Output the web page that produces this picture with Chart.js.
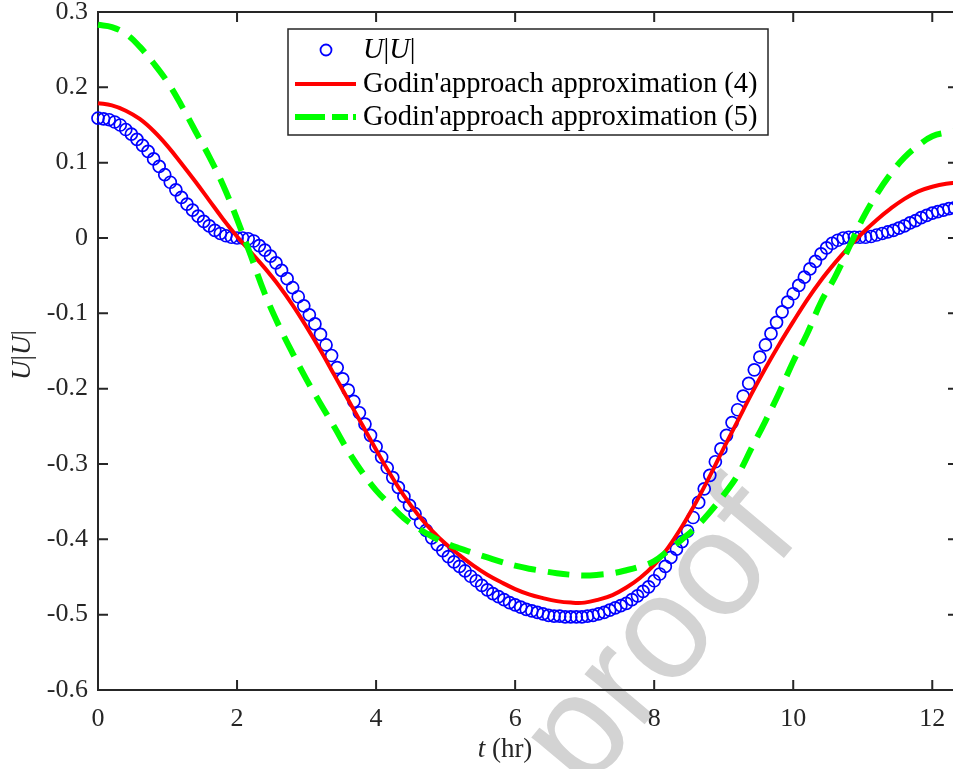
<!DOCTYPE html>
<html>
<head>
<meta charset="utf-8">
<script src="https://cdn.jsdelivr.net/npm/chart.js@4.4.1/dist/chart.umd.min.js"></script>
<style>
  html, body { margin: 0; padding: 0; background: #fff; overflow: hidden; }
  #wrap { position: absolute; left: 0; top: 0; width: 970px; height: 769px; }
</style>
</head>
<body>
<div id="wrap"><canvas id="c" width="970" height="769"></canvas></div>
<script>
// Time samples (hr) of the measured U|U| series
const tMeasured = [0,0.08,0.16,0.24,0.32,0.4,0.48,0.56,0.64,0.72,0.8,0.88,0.96,1.04,1.12,1.2,1.28,1.36,1.44,1.52,
  1.6,1.68,1.76,1.84,1.92,2,2.08,2.16,2.24,2.32,2.4,2.48,2.56,2.64,2.72,2.8,2.88,2.96,3.04,3.12,
  3.2,3.28,3.36,3.44,3.52,3.6,3.68,3.76,3.84,3.92,4,4.08,4.16,4.24,4.32,4.4,4.48,4.56,4.64,4.72,
  4.8,4.88,4.96,5.04,5.12,5.2,5.28,5.36,5.44,5.52,5.6,5.68,5.76,5.84,5.92,6,6.08,6.16,6.24,6.32,
  6.4,6.48,6.56,6.64,6.72,6.8,6.88,6.96,7.04,7.12,7.2,7.28,7.36,7.44,7.52,7.6,7.68,7.76,7.84,7.92,
  8,8.08,8.16,8.24,8.32,8.4,8.48,8.56,8.64,8.72,8.8,8.88,8.96,9.04,9.12,9.2,9.28,9.36,9.44,9.52,
  9.6,9.68,9.76,9.84,9.92,10,10.08,10.16,10.24,10.32,10.4,10.48,10.56,10.64,10.72,10.8,10.88,10.96,11.04,11.12,
  11.2,11.28,11.36,11.44,11.52,11.6,11.68,11.76,11.84,11.92,12,12.08,12.16,12.24,12.32,12.4];

// U|U| values
const uuMeasured = [0.159,0.158,0.157,0.154,0.150,0.144,0.138,0.131,0.123,0.115,
  0.105,0.095,0.084,0.074,0.064,0.054,0.045,0.037,0.029,0.022,
  0.016,0.010,0.006,0.003,0.001,0.000,0.000,-0.001,-0.004,-0.010,
  -0.016,-0.024,-0.033,-0.043,-0.054,-0.066,-0.078,-0.090,-0.102,-0.114,
  -0.128,-0.142,-0.156,-0.172,-0.187,-0.202,-0.217,-0.232,-0.247,-0.262,
  -0.277,-0.291,-0.305,-0.318,-0.331,-0.343,-0.355,-0.366,-0.378,-0.388,
  -0.398,-0.407,-0.415,-0.423,-0.430,-0.436,-0.442,-0.449,-0.455,-0.461,
  -0.467,-0.472,-0.476,-0.480,-0.484,-0.487,-0.490,-0.493,-0.495,-0.497,
  -0.499,-0.501,-0.502,-0.502,-0.503,-0.503,-0.503,-0.503,-0.502,-0.501,
  -0.499,-0.497,-0.494,-0.491,-0.488,-0.485,-0.480,-0.475,-0.469,-0.463,
  -0.455,-0.446,-0.436,-0.424,-0.413,-0.403,-0.389,-0.371,-0.351,-0.333,
  -0.315,-0.297,-0.280,-0.262,-0.245,-0.228,-0.210,-0.193,-0.175,-0.158,
  -0.142,-0.127,-0.112,-0.098,-0.085,-0.074,-0.063,-0.052,-0.041,-0.031,
  -0.021,-0.013,-0.007,-0.003,0.000,0.001,0.001,0.001,0.001,0.002,
  0.004,0.006,0.008,0.010,0.013,0.016,0.020,0.023,0.027,0.030,
  0.033,0.035,0.037,0.039,0.040,0.041];

// Time samples (hr) of the two approximations
const tApprox = [0,0.2,0.4,0.6,0.8,1,1.2,1.4,1.6,1.8,2,2.2,2.4,2.6,2.8,3,3.2,3.4,3.6,3.8,
  4,4.2,4.4,4.6,4.8,5,5.2,5.4,5.6,5.8,6,6.2,6.4,6.6,6.8,7,7.2,7.4,7.6,7.8,
  8,8.2,8.4,8.6,8.8,9,9.2,9.4,9.6,9.8,10,10.2,10.4,10.6,10.8,11,11.2,11.4,11.6,11.8,
  12,12.2,12.4];

// Godin'approach approximation (4)
const approx4 = [0.179,0.176,0.169,0.158,0.142,0.122,0.099,0.075,0.050,0.025,
  0.002,-0.019,-0.040,-0.063,-0.089,-0.118,-0.149,-0.182,-0.215,-0.248,
  -0.281,-0.313,-0.342,-0.367,-0.388,-0.406,-0.421,-0.435,-0.447,-0.457,
  -0.466,-0.473,-0.478,-0.482,-0.484,-0.484,-0.480,-0.474,-0.464,-0.451,
  -0.434,-0.411,-0.383,-0.351,-0.316,-0.279,-0.243,-0.207,-0.173,-0.141,
  -0.111,-0.082,-0.056,-0.033,-0.012,0.007,0.024,0.039,0.052,0.062,
  0.068,0.072,0.074];

// Godin'approach approximation (5)
const approx5 = [0.283,0.280,0.271,0.254,0.232,0.207,0.176,0.142,0.108,0.070,
  0.025,-0.024,-0.074,-0.116,-0.153,-0.188,-0.220,-0.251,-0.283,-0.311,
  -0.335,-0.354,-0.372,-0.385,-0.396,-0.405,-0.412,-0.418,-0.424,-0.430,
  -0.435,-0.439,-0.442,-0.445,-0.447,-0.448,-0.447,-0.445,-0.441,-0.436,
  -0.429,-0.415,-0.400,-0.384,-0.364,-0.341,-0.315,-0.279,-0.243,-0.205,
  -0.164,-0.127,-0.085,-0.052,-0.013,0.026,0.058,0.085,0.107,0.123,
  0.135,0.140,0.143];

const xTicks = [0, 2, 4, 6, 8, 10, 12];
const xTickLabels = ['0', '2', '4', '6', '8', '10', '12'];
const yTicks = [-0.6, -0.5, -0.4, -0.3, -0.2, -0.1, 0, 0.1, 0.2, 0.3];
const yTickLabels = ['-0.6', '-0.5', '-0.4', '-0.3', '-0.2', '-0.1', '0', '0.1', '0.2', '0.3'];
const seriesNames = ['U|U|', "Godin'approach approximation (4)", "Godin'approach approximation (5)"];

const SERIF = "'Liberation Serif', 'Times New Roman', serif";
const AXIS = '#262626';
const TICK_LEN = 10;
const TICK_PX = 26;
const TITLE_PX = 27;
const LEGEND_PX = 28.5;

const zip = (xs, ys) => xs.map((x, i) => ({ x, y: ys[i] }));

// Text made of upright and italic pieces, e.g. U|U| or t (hr)
function drawPieces(ctx, pieces, size, x, y, align) {
  const fontOf = p => (p.i ? 'italic ' : '') + size + 'px ' + SERIF;
  let total = 0;
  pieces.forEach(p => { ctx.font = fontOf(p); total += ctx.measureText(p.t).width; });
  let cx = align === 'center' ? x - total / 2 : x;
  ctx.textAlign = 'left';
  pieces.forEach(p => {
    ctx.font = fontOf(p);
    ctx.fillText(p.t, cx, y);
    cx += ctx.measureText(p.t).width;
  });
}
const UU = [{ t: 'U', i: true }, { t: '|' }, { t: 'U', i: true }, { t: '|' }];

// Diagonal grey stamp behind the plot
const stamp = {
  id: 'stamp',
  beforeDraw(chart) {
    const ctx = chart.ctx;
    ctx.save();
    ctx.translate(585, 795);
    ctx.rotate(-50 * Math.PI / 180);
    ctx.font = "148px 'Liberation Sans', Arial, sans-serif";
    ctx.fillStyle = '#d3d3d3';
    ctx.textBaseline = 'alphabetic';
    ctx.fillText('proof', 0, 0);
    ctx.restore();
  }
};

// Box outline with inward tick marks on all four sides
const frame = {
  id: 'frame',
  beforeDatasetsDraw(chart) {
    const { ctx, chartArea: a, scales: { x, y } } = chart;
    ctx.save();
    ctx.strokeStyle = AXIS;
    ctx.lineWidth = 2;
    ctx.beginPath();
    ctx.rect(a.left, a.top, a.right - a.left, a.bottom - a.top);
    xTicks.forEach(v => {
      const px = x.getPixelForValue(v);
      ctx.moveTo(px, a.bottom); ctx.lineTo(px, a.bottom - TICK_LEN);
      ctx.moveTo(px, a.top); ctx.lineTo(px, a.top + TICK_LEN);
    });
    yTicks.forEach(v => {
      const py = y.getPixelForValue(v);
      ctx.moveTo(a.left, py); ctx.lineTo(a.left + TICK_LEN, py);
      ctx.moveTo(a.right, py); ctx.lineTo(a.right - TICK_LEN, py);
    });
    ctx.stroke();
    ctx.restore();
  }
};

// Axis titles and the boxed legend
const annotations = {
  id: 'annotations',
  afterDraw(chart) {
    const ctx = chart.ctx;
    ctx.save();
    ctx.fillStyle = AXIS;
    ctx.textBaseline = 'alphabetic';
    drawPieces(ctx, [{ t: 't', i: true }, { t: ' (hr)' }], TITLE_PX, 505, 757, 'center');
    ctx.save();
    ctx.translate(30, 355);
    ctx.rotate(-Math.PI / 2);
    drawPieces(ctx, UU, TITLE_PX, 0, 0, 'center');
    ctx.restore();

    // legend
    const L = { x: 288, y: 29, w: 480, h: 106 };
    ctx.fillStyle = '#fff';
    ctx.fillRect(L.x, L.y, L.w, L.h);
    ctx.strokeStyle = AXIS;
    ctx.lineWidth = 1.5;
    ctx.strokeRect(L.x, L.y, L.w, L.h);
    const rows = [50, 84, 117];
    const textX = 363;
    // marker row
    ctx.strokeStyle = '#0000ff';
    ctx.lineWidth = 1.8;
    ctx.beginPath();
    ctx.arc(326, rows[0], 5.5, 0, Math.PI * 2);
    ctx.stroke();
    // solid line row
    ctx.strokeStyle = '#ff0000';
    ctx.lineWidth = 4;
    ctx.beginPath();
    ctx.moveTo(295, rows[1]); ctx.lineTo(356, rows[1]);
    ctx.stroke();
    // dashed line row
    ctx.strokeStyle = '#00ff00';
    ctx.lineWidth = 6;
    ctx.setLineDash([30, 7, 16, 5]);
    ctx.beginPath();
    ctx.moveTo(295, rows[2]); ctx.lineTo(356, rows[2]);
    ctx.stroke();
    ctx.setLineDash([]);

    ctx.fillStyle = '#000';
    ctx.textBaseline = 'middle';
    drawPieces(ctx, UU, LEGEND_PX, textX, rows[0] + 1, 'left');
    ctx.font = LEGEND_PX + 'px ' + SERIF;
    ctx.textAlign = 'left';
    ctx.fillText(seriesNames[1], textX, rows[1] + 1);
    ctx.fillText(seriesNames[2], textX, rows[2] + 1);
    ctx.restore();
  }
};

new Chart(document.getElementById('c'), {
  type: 'line',
  data: {
    datasets: [
      {
        label: seriesNames[0],
        data: zip(tMeasured, uuMeasured),
        showLine: false,
        pointStyle: 'circle',
        pointRadius: 6,
        pointBorderWidth: 1.7,
        pointBorderColor: '#0000ff',
        pointBackgroundColor: 'rgba(0,0,0,0)',
        borderColor: '#0000ff',
        order: 3,
        clip: false
      },
      {
        label: seriesNames[1],
        data: zip(tApprox, approx4),
        borderColor: '#ff0000',
        borderWidth: 4,
        pointRadius: 0,
        tension: 0.4,
        order: 2,
        clip: false
      },
      {
        label: seriesNames[2],
        data: zip(tApprox, approx5),
        borderColor: '#00ff00',
        borderWidth: 6,
        borderDash: [22, 12],
        borderCapStyle: 'butt',
        pointRadius: 0,
        tension: 0.4,
        order: 1,
        clip: false
      }
    ]
  },
  options: {
    responsive: false,
    animation: false,
    devicePixelRatio: 1,
    events: [],
    layout: { padding: { left: 0, top: 0, right: 12, bottom: 0 } },
    plugins: { legend: { display: false }, tooltip: { enabled: false } },
    scales: {
      x: {
        type: 'linear',
        min: 0,
        max: 12.37,
        grid: { display: false, drawTicks: false },
        border: { display: false },
        afterBuildTicks: s => { s.ticks = xTicks.map(v => ({ value: v })); },
        afterFit: s => { s.height = 79; s.paddingLeft = 0; s.paddingRight = 0; },
        ticks: {
          padding: 14,
          maxRotation: 0,
          autoSkip: false,
          color: AXIS,
          font: { family: SERIF, size: TICK_PX },
          callback: (v, i) => xTickLabels[i]
        }
      },
      y: {
        type: 'linear',
        min: -0.6,
        max: 0.3,
        grid: { display: false, drawTicks: false },
        border: { display: false },
        afterBuildTicks: s => { s.ticks = yTicks.map(v => ({ value: v })); },
        afterFit: s => { s.width = 98; s.paddingTop = 12; s.paddingBottom = 0; },
        ticks: {
          padding: 10,
          autoSkip: false,
          color: AXIS,
          font: { family: SERIF, size: TICK_PX },
          callback: (v, i) => yTickLabels[i]
        }
      }
    }
  },
  plugins: [stamp, frame, annotations]
});
</script>
</body>
</html>
